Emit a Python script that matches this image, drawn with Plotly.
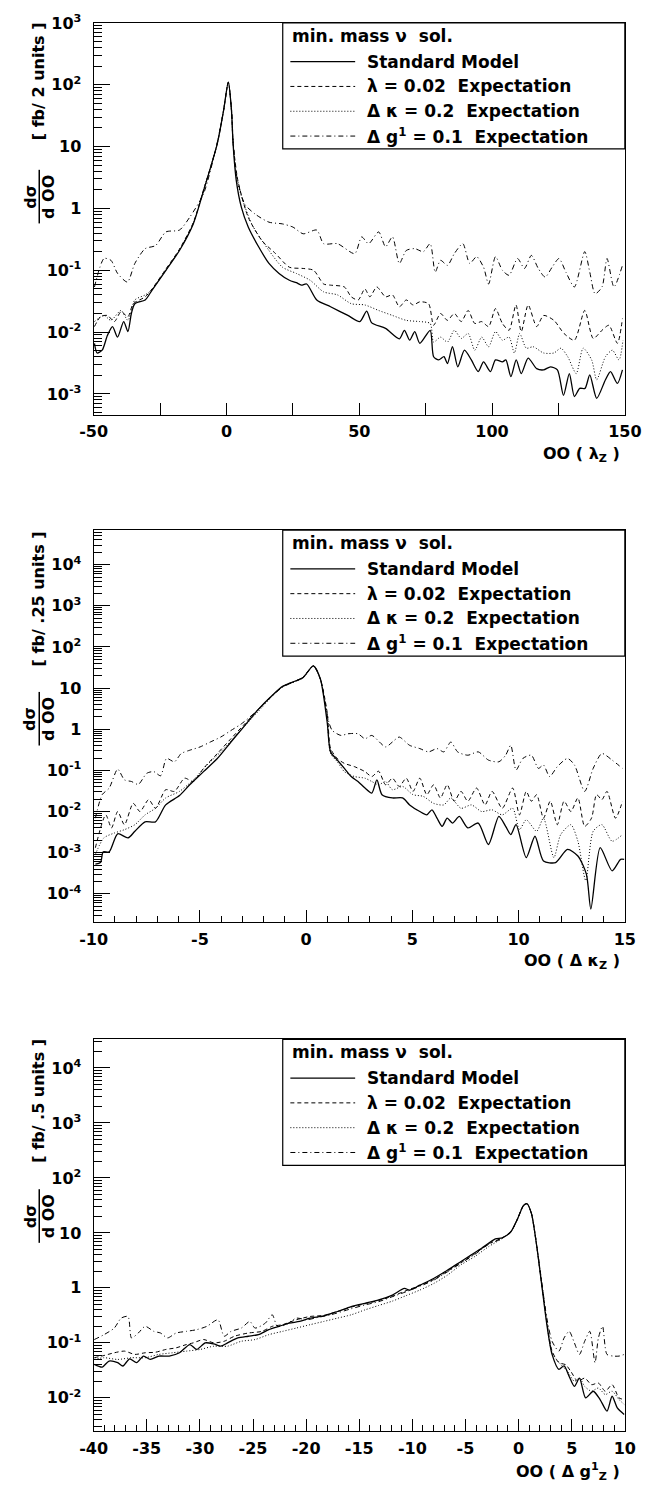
import plotly.graph_objects as go

# ---------------- data ----------------
# Panel 1 : OO(lambda_z)
p1_sm = [(-49.7, 0.0066), (-48.7, 0.0046), (-46.8, 0.0051), (-44.8, 0.0089), (-42.9, 0.0123), (-41.0, 0.0083),
         (-38.7, 0.0148), (-37.1, 0.0102), (-35.8, 0.020), (-34.5, 0.0288), (-30.6, 0.0331), (-28.0, 0.0479),
         (-22.8, 0.100), (-17.7, 0.209), (-12.5, 0.562), (-8.6, 1.95), (-3.5, 11.0), (-1.1, 38.0), (0.7, 110),
         (1.9, 38), (2.5, 11), (3.7, 2.82), (5.6, 1.05), (8.2, 0.50), (12.1, 0.24), (16.0, 0.129), (19.8, 0.089),
         (23.7, 0.069), (26.3, 0.063), (28.2, 0.0575), (30.2, 0.060), (34.0, 0.0331), (39.2, 0.0257), (45.7, 0.0186),
         (50.2, 0.0148), (52.8, 0.0219), (54.7, 0.0141), (59.9, 0.0115), (65.1, 0.0078), (67.0, 0.0107),
         (69.0, 0.0074), (70.9, 0.0102), (72.8, 0.0066), (76.7, 0.0107), (78.0, 0.0040), (79.9, 0.00355),
         (81.9, 0.0040), (83.2, 0.0031), (85.1, 0.0058), (87.1, 0.00275), (89.6, 0.0051), (92.2, 0.00355),
         (94.8, 0.0023), (96.8, 0.0033), (99.4, 0.0023), (101.3, 0.00355), (103.9, 0.0033), (105.2, 0.00355),
         (107.1, 0.0019), (109.1, 0.00355), (111.0, 0.00214), (113.6, 0.0038), (116.8, 0.00257), (119.4, 0.00245),
         (122.0, 0.00275), (124.6, 0.00245), (126.9, 0.00095), (129.1, 0.00214), (131.0, 0.00091), (133.0, 0.00123),
         (135.0, 0.00123), (136.8, 0.00204), (139.4, 0.00085), (142.7, 0.0017), (144.6, 0.0023), (147.2, 0.00148),
         (149.1, 0.00245)]
p1_lam = [(-49.7, 0.0123), (-47.4, 0.0178), (-44.8, 0.0186), (-42.2, 0.0148), (-39.7, 0.0214), (-37.1, 0.0178),
          (-35.1, 0.0288), (-30.6, 0.0372), (-28.0, 0.050), (-22.8, 0.105), (-17.7, 0.219), (-12.5, 0.59),
          (-8.6, 2.0), (-3.5, 11.0), (-1.1, 38.0), (0.7, 110), (1.9, 38), (2.5, 11.5), (4.3, 2.82), (8.2, 0.72),
          (13.4, 0.30), (18.5, 0.186), (23.7, 0.112), (28.9, 0.107), (32.8, 0.100), (36.6, 0.060), (39.2, 0.0575),
          (44.4, 0.0537), (47.0, 0.0372), (49.6, 0.0331), (52.1, 0.050), (54.0, 0.0372), (56.6, 0.0537),
          (59.9, 0.0372), (62.5, 0.040), (65.1, 0.0257), (67.7, 0.0331), (70.3, 0.0275), (72.8, 0.0309),
          (76.1, 0.0288), (78.0, 0.0129), (80.6, 0.020), (83.2, 0.0155), (85.8, 0.020), (88.4, 0.0148),
          (91.0, 0.0224), (93.5, 0.0138), (96.1, 0.0148), (98.7, 0.0123), (101.3, 0.024), (103.9, 0.0138),
          (106.4, 0.0107), (109.0, 0.0275), (111.0, 0.0102), (113.6, 0.0275), (116.8, 0.0123), (119.4, 0.0186),
          (123.3, 0.0155), (127.1, 0.0095), (131.0, 0.0074), (134.9, 0.0224), (138.1, 0.0079), (141.4, 0.0107),
          (144.0, 0.0129), (147.2, 0.0066), (149.1, 0.0166)]
p1_kap = [(-49.7, 0.0148), (-46.1, 0.0186), (-43.5, 0.0155), (-39.7, 0.0224), (-37.1, 0.0155), (-34.5, 0.0331),
          (-30.6, 0.040), (-28.0, 0.049), (-22.8, 0.100), (-17.7, 0.214), (-12.5, 0.575), (-8.6, 2.0),
          (-3.5, 11.0), (-1.1, 38.0), (0.7, 110), (1.9, 38), (2.5, 11.2), (4.3, 2.51), (9.5, 0.562), (16.0, 0.209),
          (21.1, 0.112), (26.3, 0.089), (31.5, 0.069), (36.6, 0.0447), (41.8, 0.040), (47.0, 0.0288),
          (52.1, 0.0275), (57.3, 0.0224), (62.5, 0.0186), (67.7, 0.0155), (72.8, 0.0148), (76.7, 0.0138),
          (78.0, 0.0069), (80.6, 0.0083), (83.2, 0.0069), (85.8, 0.0107), (88.4, 0.0079), (91.0, 0.0095),
          (93.5, 0.0051), (96.1, 0.0083), (98.7, 0.0058), (101.3, 0.0102), (103.9, 0.0074), (106.4, 0.0083),
          (108.4, 0.0046), (110.4, 0.0095), (112.9, 0.0055), (115.5, 0.0058), (119.4, 0.0046), (123.3, 0.0046),
          (125.9, 0.0055), (128.5, 0.0040), (131.7, 0.00214), (134.3, 0.0055), (137.5, 0.00355), (139.4, 0.0017),
          (142.7, 0.0040), (145.3, 0.0051), (147.8, 0.00355), (149.3, 0.0074)]
p1_g1 = [(-49.7, 0.0537), (-46.1, 0.155), (-43.5, 0.145), (-41.0, 0.089), (-37.3, 0.0646), (-34.5, 0.129),
         (-30.6, 0.224), (-26.7, 0.251), (-22.8, 0.417), (-17.7, 0.447), (-13.8, 0.724), (-8.6, 1.74),
         (-3.5, 11.5), (-1.1, 38.0), (0.7, 110), (1.9, 40), (2.5, 12.6), (3.7, 3.63), (6.9, 1.17), (10.8, 0.81),
         (16.0, 0.60), (21.1, 0.562), (25.0, 0.50), (28.9, 0.389), (34.0, 0.447), (36.6, 0.269), (41.8, 0.269),
         (48.3, 0.186), (50.9, 0.347), (53.5, 0.269), (57.3, 0.417), (59.9, 0.24), (62.5, 0.347), (65.1, 0.129),
         (67.7, 0.209), (70.9, 0.224), (74.1, 0.20), (76.7, 0.269), (78.6, 0.0933), (80.6, 0.145), (83.2, 0.120),
         (85.8, 0.186), (89.0, 0.269), (91.6, 0.129), (94.2, 0.166), (96.8, 0.112), (98.7, 0.060), (101.3, 0.166),
         (103.9, 0.100), (106.4, 0.083), (109.6, 0.155), (112.2, 0.107), (114.8, 0.174), (117.4, 0.107),
         (120.0, 0.0776), (122.6, 0.112), (125.2, 0.155), (127.8, 0.0933), (131.0, 0.0537), (134.9, 0.20),
         (136.8, 0.0933), (138.8, 0.0417), (141.4, 0.0537), (143.3, 0.155), (145.9, 0.0537), (149.1, 0.120)]

# Panel 2 : OO(Delta kappa_z)
p2_sm = [(-9.92, 0.000525), (-9.68, 0.000575), (-9.55, 0.00105), (-9.27, 0.00105), (-8.87, 0.00288),
         (-8.38, 0.00229), (-8.06, 0.00331), (-7.58, 0.00562), (-7.09, 0.00562), (-6.61, 0.0145), (-5.96, 0.0245),
         (-5.48, 0.0447), (-4.83, 0.0933), (-4.18, 0.195), (-3.54, 0.49), (-2.89, 1.23), (-2.24, 3.09),
         (-1.60, 6.61), (-1.11, 11.0), (-0.47, 15.1), (-0.14, 18.2), (0.34, 34.7), (0.67, 16.6), (0.99, 1.48),
         (1.15, 0.282), (1.47, 0.178), (1.80, 0.112), (2.12, 0.0708), (2.44, 0.0537), (2.77, 0.0372),
         (3.09, 0.0282), (3.33, 0.0589), (3.57, 0.0257), (4.06, 0.0214), (4.54, 0.0214), (4.87, 0.0145),
         (5.35, 0.0100), (5.68, 0.0083), (5.92, 0.011), (6.16, 0.0069), (6.40, 0.00437), (6.64, 0.0069),
         (6.89, 0.00525), (7.21, 0.0076), (7.61, 0.0040), (8.10, 0.00525), (8.58, 0.00158), (9.07, 0.0076),
         (9.39, 0.00437), (9.63, 0.00275), (9.88, 0.00479), (10.36, 0.00076), (10.77, 0.00251), (11.17, 0.00063),
         (11.74, 0.000575), (12.30, 0.0012), (12.79, 0.00083), (13.19, 0.0003), (13.40, 0.0000427),
         (13.84, 0.00132), (14.40, 0.000363), (14.80, 0.00069), (14.97, 0.00069)]
p2_lam = [(-9.92, 0.00132), (-9.43, 0.0083), (-9.16, 0.0040), (-8.87, 0.0100), (-8.55, 0.00479), (-8.14, 0.0158),
          (-7.82, 0.0100), (-7.41, 0.0195), (-7.09, 0.012), (-6.61, 0.0339), (-6.20, 0.0309), (-5.72, 0.0646),
          (-5.31, 0.0537), (-4.83, 0.112), (-4.18, 0.257), (-3.54, 0.589), (-2.89, 1.35), (-2.24, 3.09),
          (-1.60, 6.61), (-1.11, 11.0), (-0.47, 15.1), (-0.14, 18.2), (0.34, 34.7), (0.67, 16.6), (0.99, 2.57),
          (1.15, 0.339), (1.47, 0.195), (1.80, 0.148), (2.28, 0.123), (2.77, 0.0933), (3.09, 0.0708),
          (3.41, 0.0955), (3.74, 0.0447), (4.06, 0.0646), (4.38, 0.0407), (4.71, 0.0646), (5.03, 0.0309),
          (5.35, 0.0646), (5.68, 0.0257), (6.00, 0.0447), (6.32, 0.0214), (6.64, 0.0447), (6.97, 0.0178),
          (7.29, 0.0309), (7.61, 0.0178), (8.02, 0.0372), (8.42, 0.0145), (8.75, 0.0309), (9.23, 0.012),
          (9.72, 0.0372), (10.04, 0.0083), (10.36, 0.0309), (10.60, 0.0178), (10.85, 0.0257), (11.17, 0.0069),
          (11.49, 0.0178), (11.82, 0.00479), (12.14, 0.0178), (12.46, 0.0100), (12.79, 0.0214), (13.11, 0.00437),
          (13.43, 0.0069), (13.67, 0.0257), (13.92, 0.0195), (14.16, 0.0309), (14.56, 0.0069), (14.89, 0.0178)]
p2_kap = [(-9.92, 0.00091), (-9.52, 0.00229), (-9.03, 0.0030), (-8.55, 0.00363), (-8.06, 0.00479), (-7.58, 0.0083),
          (-7.09, 0.012), (-6.61, 0.0214), (-5.96, 0.0309), (-5.31, 0.0589), (-4.67, 0.135), (-4.02, 0.282),
          (-3.37, 0.646), (-2.73, 1.48), (-2.08, 3.39), (-1.43, 7.94), (-1.11, 10.7), (-0.47, 14.8), (-0.14, 17.8),
          (0.34, 34.7), (0.67, 16.6), (0.99, 2.0), (1.15, 0.257), (1.47, 0.162), (1.80, 0.0933), (2.28, 0.0708),
          (2.77, 0.0646), (3.09, 0.0537), (3.41, 0.0447), (3.74, 0.0537), (4.06, 0.0339), (4.54, 0.0407),
          (5.03, 0.0257), (5.51, 0.0234), (6.00, 0.0158), (6.48, 0.0145), (6.81, 0.0214), (7.29, 0.012),
          (7.78, 0.0145), (8.26, 0.0100), (8.75, 0.011), (9.23, 0.0083), (9.72, 0.012), (10.04, 0.00363),
          (10.36, 0.0063), (10.85, 0.00331), (11.17, 0.0069), (11.66, 0.00076), (11.98, 0.00275), (12.46, 0.00479),
          (12.79, 0.0019), (13.16, 0.00021), (13.51, 0.00331), (13.92, 0.00479), (14.40, 0.0019), (14.89, 0.00275)]
p2_g1 = [(-9.92, 0.0069), (-9.60, 0.0257), (-9.27, 0.0372), (-8.87, 0.107), (-8.55, 0.0589), (-8.22, 0.0537),
         (-7.90, 0.0457), (-7.50, 0.0851), (-7.17, 0.0933), (-6.85, 0.0741), (-6.57, 0.195), (-6.20, 0.162),
         (-5.88, 0.257), (-5.48, 0.309), (-4.99, 0.372), (-4.51, 0.49), (-4.02, 0.646), (-3.54, 0.933),
         (-3.05, 1.35), (-2.40, 2.57), (-1.76, 5.37), (-1.11, 10.5), (-0.47, 15.1), (-0.14, 18.2), (0.34, 34.7),
         (0.67, 16.6), (1.07, 1.48), (1.23, 0.933), (1.64, 0.708), (1.96, 0.776), (2.44, 0.776), (2.77, 0.589),
         (3.09, 0.708), (3.74, 0.372), (4.06, 0.49), (4.38, 0.646), (4.87, 0.407), (5.35, 0.339), (5.76, 0.282),
         (6.16, 0.339), (6.48, 0.282), (6.81, 0.49), (7.13, 0.282), (7.61, 0.234), (8.10, 0.282), (8.58, 0.178),
         (9.07, 0.162), (9.39, 0.234), (9.63, 0.407), (9.88, 0.102), (10.20, 0.195), (10.60, 0.234),
         (10.93, 0.112), (11.17, 0.135), (11.46, 0.0708), (11.82, 0.123), (12.30, 0.195), (12.63, 0.135),
         (13.11, 0.0309), (13.51, 0.112), (13.92, 0.257), (14.40, 0.178), (14.89, 0.112)]

# Panel 3 : OO(Delta g1_z)
p3_sm = [(-39.94, 0.0407), (-39.19, 0.0363), (-38.55, 0.0468), (-37.74, 0.0437), (-37.25, 0.038), (-36.61, 0.0513),
         (-35.96, 0.0437), (-35.31, 0.0575), (-34.67, 0.050), (-33.86, 0.0575), (-32.89, 0.0575), (-31.92, 0.0661),
         (-30.95, 0.0933), (-30.30, 0.0759), (-29.50, 0.100), (-28.69, 0.0955), (-28.04, 0.0871), (-27.40, 0.100),
         (-26.43, 0.123), (-25.46, 0.132), (-24.49, 0.141), (-23.52, 0.174), (-22.55, 0.20), (-21.58, 0.229),
         (-20.61, 0.245), (-19.64, 0.282), (-18.35, 0.309), (-17.05, 0.372), (-15.76, 0.457), (-14.47, 0.525),
         (-13.17, 0.603), (-11.88, 0.741), (-10.75, 0.977), (-10.27, 0.912), (-9.30, 1.12), (-8.00, 1.48),
         (-6.71, 2.09), (-5.42, 3.02), (-4.45, 3.98), (-3.48, 5.25), (-2.19, 7.76), (-1.54, 8.13), (-0.73, 10.5),
         (-0.09, 18.2), (0.46, 31.6), (0.79, 33.9), (1.21, 22.4), (1.69, 6.03), (2.18, 1.12), (2.66, 0.214),
         (3.15, 0.0617), (3.79, 0.0331), (4.28, 0.038), (4.76, 0.0245), (5.25, 0.0162), (5.73, 0.0229),
         (6.31, 0.0100), (7.03, 0.0132), (7.67, 0.00933), (8.32, 0.00575), (8.80, 0.0107), (9.29, 0.0066),
         (9.94, 0.0050)]
p3_lam = [(-39.94, 0.0537), (-39.03, 0.0589), (-38.06, 0.0661), (-37.09, 0.0708), (-36.12, 0.0617), (-35.15, 0.0661),
          (-34.18, 0.0676), (-33.21, 0.0759), (-32.24, 0.0813), (-31.27, 0.0933), (-30.63, 0.100), (-29.66, 0.115),
          (-28.69, 0.100), (-27.72, 0.107), (-26.75, 0.132), (-25.46, 0.151), (-24.16, 0.162), (-23.19, 0.20),
          (-22.22, 0.214), (-20.93, 0.263), (-19.64, 0.302), (-18.35, 0.316), (-17.05, 0.372), (-15.76, 0.447),
          (-14.47, 0.513), (-13.17, 0.589), (-11.88, 0.708), (-10.59, 0.891), (-9.30, 1.10), (-8.00, 1.41),
          (-6.71, 2.0), (-5.42, 2.88), (-4.12, 4.17), (-2.83, 6.31), (-1.54, 8.13), (-0.73, 10.5), (-0.09, 18.2),
          (0.46, 31.6), (0.79, 33.9), (1.21, 22.4), (1.69, 6.03), (2.18, 1.17), (2.66, 0.24), (3.15, 0.0708),
          (3.79, 0.0437), (4.44, 0.040), (4.92, 0.0302), (5.57, 0.020), (6.22, 0.0229), (6.86, 0.0174),
          (7.51, 0.0186), (8.16, 0.0132), (8.80, 0.0174), (9.45, 0.0100), (9.94, 0.00933)]
p3_kap = [(-39.94, 0.050), (-39.03, 0.0537), (-37.74, 0.050), (-36.44, 0.0537), (-35.15, 0.0537), (-33.86, 0.0617),
          (-32.57, 0.0661), (-31.27, 0.0708), (-29.98, 0.0759), (-28.69, 0.0871), (-27.40, 0.0871), (-26.10, 0.107),
          (-24.81, 0.115), (-23.52, 0.141), (-22.22, 0.162), (-20.93, 0.186), (-19.64, 0.214), (-18.35, 0.245),
          (-17.05, 0.282), (-15.76, 0.324), (-14.47, 0.398), (-13.17, 0.479), (-11.88, 0.575), (-10.59, 0.724),
          (-9.30, 0.912), (-8.00, 1.20), (-6.71, 1.70), (-5.42, 2.63), (-4.12, 3.72), (-2.83, 5.62), (-1.54, 7.94),
          (-0.73, 10.5), (-0.09, 18.2), (0.46, 31.6), (0.79, 33.9), (1.21, 22.4), (1.69, 6.03), (2.18, 1.15),
          (2.66, 0.229), (3.15, 0.0661), (3.96, 0.0407), (4.60, 0.0302), (5.25, 0.020), (5.73, 0.0229),
          (6.22, 0.0162), (6.86, 0.0132), (7.51, 0.0151), (8.16, 0.0115), (8.80, 0.0132), (9.45, 0.00933),
          (9.94, 0.0076)]
p3_g1 = [(-39.94, 0.115), (-39.03, 0.141), (-38.06, 0.186), (-37.41, 0.282), (-36.77, 0.302), (-36.44, 0.123),
         (-35.80, 0.151), (-35.15, 0.20), (-34.34, 0.162), (-33.70, 0.151), (-33.05, 0.123), (-32.24, 0.151),
         (-31.27, 0.162), (-30.30, 0.174), (-29.34, 0.20), (-28.30, 0.263), (-27.72, 0.132), (-27.07, 0.162),
         (-26.10, 0.186), (-25.30, 0.245), (-24.81, 0.186), (-23.84, 0.229), (-23.19, 0.324), (-22.71, 0.20),
         (-21.90, 0.214), (-20.93, 0.282), (-19.96, 0.263), (-18.99, 0.288), (-17.70, 0.324), (-15.76, 0.417),
         (-14.47, 0.49), (-13.17, 0.562), (-11.88, 0.692), (-10.59, 0.851), (-9.30, 1.07), (-8.00, 1.38),
         (-6.71, 1.95), (-5.42, 2.82), (-4.12, 4.07), (-2.83, 6.17), (-1.54, 7.94), (-0.73, 10.5), (-0.09, 18.2),
         (0.46, 31.6), (0.79, 33.9), (1.21, 22.4), (1.69, 6.31), (2.18, 1.26), (2.66, 0.282), (3.15, 0.107),
         (3.79, 0.0708), (4.28, 0.123), (4.76, 0.162), (5.25, 0.100), (5.73, 0.0617), (6.22, 0.107),
         (6.70, 0.162), (7.19, 0.0437), (7.51, 0.123), (7.90, 0.20), (8.32, 0.0617), (8.96, 0.0575),
         (9.45, 0.0575), (9.94, 0.0617)]

series_names = ["Standard Model", "λ = 0.02  Expectation", "Δ κ = 0.2  Expectation", "Δ g<sup>1</sup> = 0.1  Expectation"]
legend_header = "min. mass ν  sol."

x_ranges = [(-50, 150), (-10, 15), (-40, 10)]
x_major = [[-50, 0, 50, 100, 150], [-10, -5, 0, 5, 10, 15], [-40, -35, -30, -25, -20, -15, -10, -5, 0, 5, 10]]
x_minor = [[-25, 25, 75, 125], list(range(-10, 16)), list(range(-40, 11))]
y_log_ranges = [(-3.34, 3.0), (-4.69, 4.84), (-2.61, 4.52)]
y_decades = [range(-3, 4), range(-4, 5), range(-2, 5)]
y_units = ["[ fb/ 2 units ]", "[ fb/ .25 units ]", "[ fb/ .5 units ]"]
x_titles = ["OO ( λ<sub>Z</sub> )", "OO ( Δ κ<sub>Z</sub> )", "OO ( Δ g<sup>1</sup><sub>Z</sub> )"]

# ---------------- layout geometry (pixels) ----------------
W, H = 659, 1487
X0, X1 = 83.6, 641.0
panel_tops = [12, 523, 1036]
PH = 395

FONT = "DejaVu Sans"
dashes = ["solid", "4px,3px", "1px,2px", "5px,3px,1px,3px"]
widths = [1.3, 1.0, 1.0, 1.0]
panels = [[p1_sm, p1_lam, p1_kap, p1_g1], [p2_sm, p2_lam, p2_kap, p2_g1], [p3_sm, p3_lam, p3_kap, p3_g1]]


def nb(s):
    return s.replace(" ", "\u00a0")


def tick_label(k):
    if k == 0:
        return "1"
    if k == 1:
        return "10"
    return "10<sup>%d</sup>" % k


fig = go.Figure()
layout = dict(width=W, height=H, autosize=False, margin=dict(l=0, r=0, t=0, b=0, pad=0), paper_bgcolor="white",
              plot_bgcolor="white", showlegend=False, font=dict(family=FONT, color="black"))
shapes = []
annotations = []

for i, curves in enumerate(panels):
    n = "" if i == 0 else str(i + 1)
    xa, ya = "x" + n, "y" + n
    for j, c in enumerate(curves):
        fig.add_trace(go.Scatter(x=[p[0] for p in c], y=[p[1] for p in c], mode="lines", xaxis=xa, yaxis=ya,
                                 line=dict(color="black", width=widths[j], dash=dashes[j], shape="spline",
                                           smoothing=0.7),
                                 name=series_names[j]))
    top = panel_tops[i]
    dom_y = [1 - (top + PH) / H, 1 - top / H]
    decs = list(y_decades[i])
    minor_vals = [m * 10.0 ** k for k in range(decs[0] - 1, decs[-1] + 1) for m in range(2, 10)]
    layout["xaxis" + n] = dict(domain=[X0 / W, X1 / W], range=list(x_ranges[i]), anchor=ya,
                               tickmode="array", tickvals=x_major[i], ticktext=[str(v) for v in x_major[i]],
                               ticks="inside", ticklen=12, tickwidth=1, tickcolor="black",
                               minor=dict(tickmode="array", tickvals=x_minor[i], ticks="inside",
                                          ticklen=12 if i == 0 else 6, tickwidth=1, tickcolor="black"),
                               showline=True, mirror=True, linecolor="black", linewidth=1.2,
                               showgrid=False, zeroline=False, ticklabelstandoff=2,
                               tickfont=dict(family=FONT, size=16, weight="bold", color="black"))
    layout["yaxis" + n] = dict(domain=dom_y, type="log", range=list(y_log_ranges[i]), anchor=xa,
                               tickmode="array", tickvals=[10.0 ** k for k in decs],
                               ticktext=[tick_label(k) for k in decs],
                               ticks="inside", ticklen=16, tickwidth=1, tickcolor="black",
                               minor=dict(tickmode="array", tickvals=minor_vals, ticks="inside", ticklen=8,
                                          tickwidth=1, tickcolor="black"),
                               showline=True, mirror=True, linecolor="black", linewidth=1.2,
                               showgrid=False, zeroline=False, ticklabelstandoff=8,
                               tickfont=dict(family=FONT, size=16, weight="bold", color="black"))

    xd, yd = xa + " domain", ya + " domain"
    # legend box
    lb = 1 - 127 / PH
    lx0 = (282 - X0) / (X1 - X0)
    shapes.append(dict(type="rect", xref=xd, yref=yd, x0=lx0, x1=1, y0=lb, y1=1,
                       line=dict(color="black", width=1.2), fillcolor="white", layer="above"))
    annotations.append(dict(xref=xd, yref=yd, x=(290 - X0) / (X1 - X0), y=1 - 13 / PH, xanchor="left",
                            yanchor="middle", showarrow=False, text=nb(legend_header),
                            font=dict(family=FONT, size=17, weight="bold", color="black")))
    for j, off in enumerate([39, 64, 89, 114]):
        yy = 1 - off / PH
        shapes.append(dict(type="line", xref=xd, yref=yd, x0=(290 - X0) / (X1 - X0), x1=(358 - X0) / (X1 - X0),
                           y0=yy, y1=yy, line=dict(color="black", width=widths[j], dash=dashes[j]),
                           layer="above"))
        annotations.append(dict(xref=xd, yref=yd, x=(368 - X0) / (X1 - X0), y=yy, xanchor="left",
                                yanchor="middle", showarrow=False, text=nb(series_names[j]),
                                font=dict(family=FONT, size=17, weight="bold", color="black")))
    # x title
    annotations.append(dict(xref=xd, yref=yd, x=0.995, y=-40 / PH, xanchor="right", yanchor="middle",
                            showarrow=False, text=nb(x_titles[i]),
                            font=dict(family=FONT, size=16, weight="bold", color="black")))

# y titles (rotated)
units_centers = [71, 592, 1098]
frac_centers = [187, 713, 1214]
for i in range(3):
    annotations.append(dict(xref="paper", yref="paper", x=26 / W, y=1 - units_centers[i] / H, xanchor="center",
                            yanchor="middle", showarrow=False, textangle=-90, text=nb(y_units[i]),
                            font=dict(family=FONT, size=16, weight="bold", color="black")))
    fc = frac_centers[i]
    annotations.append(dict(xref="paper", yref="paper", x=17 / W, y=1 - fc / H, xanchor="center",
                            yanchor="middle", showarrow=False, textangle=-90, text="dσ",
                            font=dict(family=FONT, size=16, weight="bold", color="black")))
    annotations.append(dict(xref="paper", yref="paper", x=36 / W, y=1 - fc / H, xanchor="center",
                            yanchor="middle", showarrow=False, textangle=-90, text=nb("d OO"),
                            font=dict(family=FONT, size=16, weight="bold", color="black")))
    shapes.append(dict(type="line", xref="paper", yref="paper", x0=26.5 / W, x1=26.5 / W,
                       y0=1 - (fc - 27) / H, y1=1 - (fc + 27) / H, line=dict(color="black", width=1.5)))

layout["shapes"] = shapes
layout["annotations"] = annotations
fig.update_layout(**layout)
fig.write_html("out.html", config={"responsive": False},
               post_script="document.body.style.margin='0px';document.body.style.overflow='hidden';")
